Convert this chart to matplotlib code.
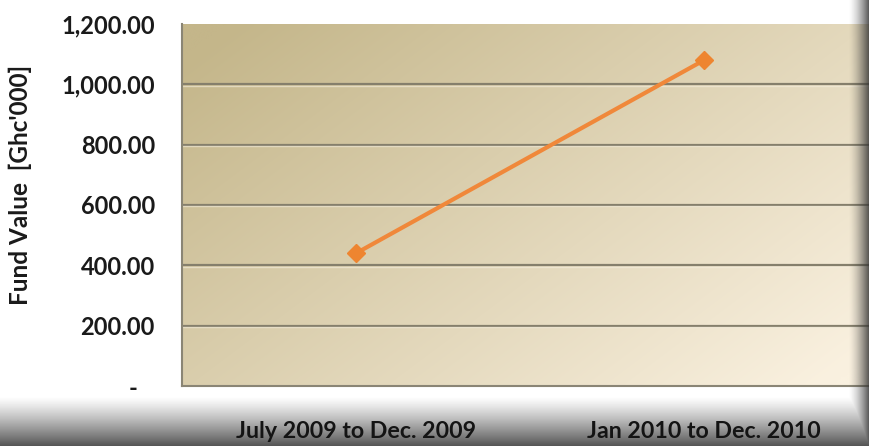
import matplotlib.pyplot as plt
import numpy as np
from matplotlib.ticker import FuncFormatter

periods = ['July 2009 to Dec. 2009', 'Jan 2010 to Dec. 2010']
fund_value = [440, 1080]
y_ticks = [0, 200, 400, 600, 800, 1000, 1200]

plt.rcParams['font.family'] = ['Lato', 'DejaVu Sans']

fig = plt.figure(figsize=(8.69, 4.46), dpi=100)
fig.patch.set_facecolor('white')

# plot area runs past the right edge (chart was cropped)
W, H = 869.0, 446.0
ax = fig.add_axes([182 / W, 1 - 386 / H, 696 / W, 362 / H])

## tan gradient background for the plot area
nx, ny = 200, 100
gx = np.linspace(0, 1, nx)[None, :]
gy = np.linspace(0, 1, ny)[:, None]   # 0 = top
t = np.clip(0.65 * gx + 0.45 * gy - 0.05, 0, 1)
dark = np.array([196, 182, 138]) / 255.
light = np.array([250, 241, 224]) / 255.
grad = dark[None, None, :] * (1 - t[..., None]) + light[None, None, :] * t[..., None]
ax.imshow(grad, extent=[0, 1, 0, 1], transform=ax.transAxes, aspect='auto',
          zorder=0, interpolation='bicubic')

ind = np.arange(len(periods))
ax.set_xlim(-0.5, len(periods) - 0.5)
ax.set_ylim(0, 1200)

for v in y_ticks[1:-1]:
    ax.axhline(v, color='#857f6c', lw=1.6, zorder=1)
    ax.axhline(v - 4, color='#f5eedd', lw=1.0, alpha=0.6, zorder=1)

ax.plot(ind, fund_value, color='#f0883a', lw=3, marker='D', markersize=9,
        markerfacecolor='#ee8530', markeredgecolor='#ee8530', zorder=3)

ax.set_yticks(y_ticks)
ax.yaxis.set_major_formatter(FuncFormatter(lambda v, p: '-   ' if v == 0 else '{:,.2f}'.format(v)))
ax.set_xticks(ind)
ax.set_xticklabels(periods)
ax.tick_params(axis='both', length=0, labelsize=17, colors='#1a1a1a')
ax.tick_params(axis='y', pad=19.5)
for lab in ax.get_yticklabels():
    lab.set_fontweight('bold')
for s in ['top', 'right']:
    ax.spines[s].set_visible(False)
ax.spines['left'].set_color('#8a8575')
ax.spines['bottom'].set_color('#8a8575')
ax.spines['left'].set_linewidth(1.5)
ax.spines['bottom'].set_linewidth(1.5)

fig.text(20 / W, 1 - 185 / H, "Fund Value  [Ghc'000]", rotation=90, ha='center',
         va='center', fontsize=17.5, fontweight='bold', color='#1a1a1a')

## dark shadow along the bottom and right edge
ov = fig.add_axes([0, 0, 1, 1], zorder=2)
ov.set_axis_off()
px = np.arange(869)[None, :]
py = np.arange(446)[:, None]
a_bottom = np.clip((py - 396) / 50.0, 0, 1) ** 1.2
a_right = np.clip((px - 848) / 21.0, 0, 1) ** 1.5
alpha = np.clip(np.maximum(a_bottom * 0.85, a_right * 0.85), 0, 1)
shade = np.zeros((446, 869, 4))
shade[..., :3] = 0.2
shade[..., 3] = alpha
ov.imshow(shade, extent=[0, 1, 0, 1], aspect='auto', interpolation='bilinear')
ov.set_xlim(0, 1)
ov.set_ylim(0, 1)

# x labels drawn above the shadow
for lab in ax.get_xticklabels():
    lab.set_visible(False)
for i, name in enumerate(periods):
    x_fig = (182 + 348 * (i + 0.5)) / W
    fig.text(x_fig, 1 - 432 / H, name, ha='center', va='center', fontsize=16.7,
             fontweight='bold', color='#141414', zorder=5)

fig.savefig('out.png', dpi=100)
